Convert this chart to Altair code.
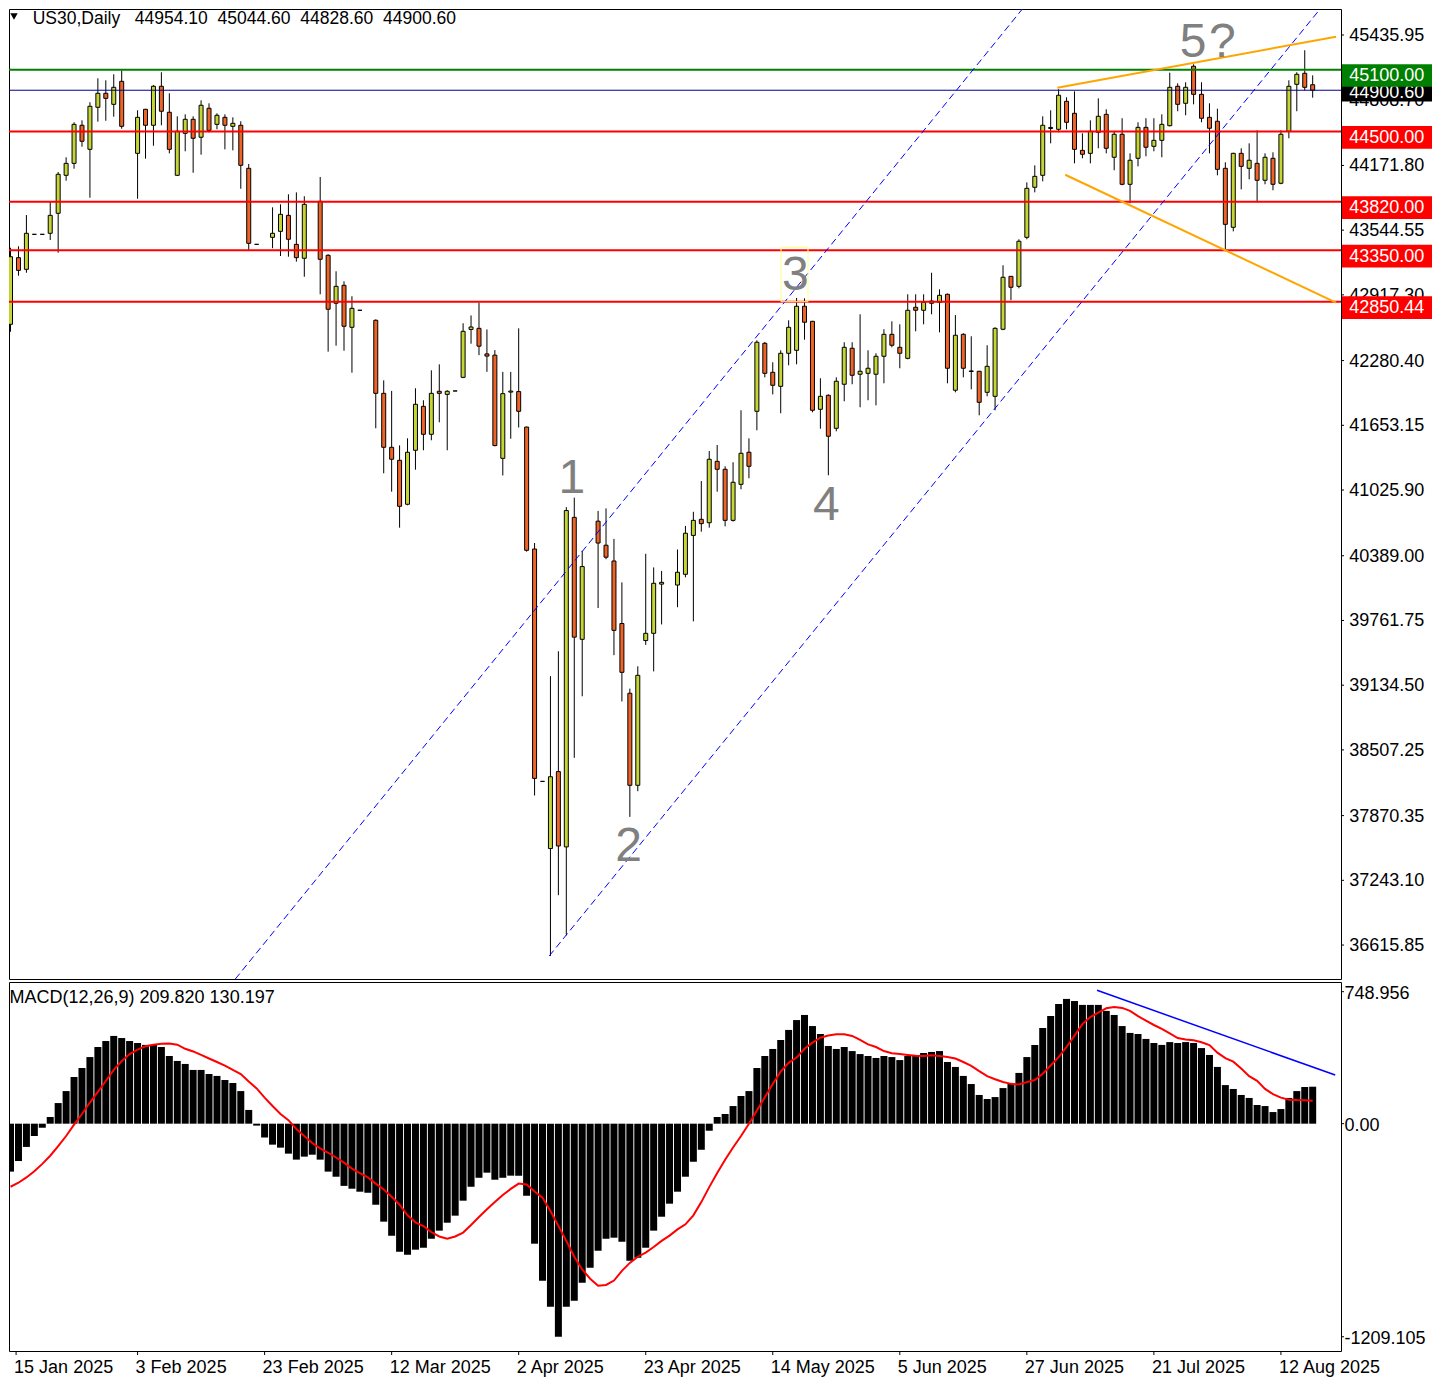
import altair as alt
import pandas as pd

# ---------------- data ----------------
bar_idx = [0,1,2,3,4,5,6,7,8,9,10,11,12,13,14,16,17,18,19,20,21,22,23,24,25,26,27,28,29,30,31,
           33,34,35,36,37,39,40,41,42,43,44,46,47,48,49,50,51,52,53,54,55,56,57,58,59,60,61,62,63,64,
           65,66,67,68,69,70,71,72,74,75,76,77,78,79,80,81,82,84,85,86,87,88,89,90,91,92,93,94,95,96,
           97,98,99,100,101,102,103,104,105,106,107,108,109,110,111,112,113,114,115,116,117,118,119,120,
           121,122,123,124,125,126,127,128,129,130,131,132,133,134,135,136,137,138,139,140,141,142,143,
           144,145,146,147,148,149,150,151,152,153,154,155,156,157,158,159,160,161,162,163,164]
opens = [42632,43278,43165,43504,43504,43514,43708,44076,44192,44561,44328,44735,44871,44764,44987,44289,44716,44561,44939,44687,44076,44483,44619,44445,44726,44570,44638,44551,44561,44144,43407,
         43475,43533,43688,43407,43272,43824,43301,42836,43010,42603,42768,42671,41963,41440,41314,40888,41411,41837,41566,41983,41953,41986,42118,42582,42593,42345,42333,41333,41975,41980,
         41636,40454,38202,37551,38297,37567,40761,39579,40724,40491,40338,39732,39056,38164,39567,39637,40114,40105,40209,40586,40742,40709,41304,41227,40732,41081,41392,41789,42448,42167,
         42031,42351,42380,42807,42661,41808,41944,41624,42051,42400,42148,42157,42148,42322,42535,42409,42302,42797,42768,42858,42845,42923,41993,42535,
         42180,42177,41973,41934,42584,43097,43000,43475,43960,44076,44530,44522,44793,44677,44318,44289,44493,44667,44251,44474,43989,44241,44541,
         44357,44415,44557,44939,44774,45133,44861,44638,44600,44144,43572,44289,44144,44192,44028,44241,43999,44503,44958,45065,44954.10]
highs = [43374,43388,43691,43504,43504,43817,44108,44251,44590,44609,44784,45016,44997,45055,45094,44706,44720,44951,45075,44871,44648,44667,44648,44803,44774,44677,44667,44638,44600,44186,43407,
         43766,43795,43892,43911,43873,44060,43311,43146,43049,42904,42768,42680,42089,41986,41459,41527,42012,41896,42186,42244,41993,41986,42642,42718,42842,42582,42382,42171,42171,42593,
         41640,40512,38202,39222,39463,40860,40952,40437,40823,40848,40552,40131,39101,39317,40408,40276,40242,40449,40678,40815,41113,41404,41462,41256,41295,41799,41527,42477,42461,42264,
         42380,42671,42887,42884,42665,42109,41953,42118,42458,42458,42729,42380,42351,42584,42661,42632,42923,42923,42923,43132,42971,42930,42722,42545,
         42516,42180,42429,42603,43204,43100,43456,44008,44173,44648,44706,44910,44832,44890,44483,44609,44822,44716,44503,44629,44289,44590,44629,
         44629,44667,45071,44968,44978,45152,44978,44774,44722,44202,44295,44338,44386,44512,44289,44299,44512,44997,45075,45288,45044.60]
lows = [42560,43103,43132,43504,43504,43449,43326,44024,44140,44353,43859,44596,44605,44644,44528,43849,44237,44363,44561,44289,44070,44309,44101,44276,44493,44522,44328,44318,43946,43349,43407,
        43369,43294,43287,43239,43093,42923,42367,42425,42376,42163,42768,41624,41188,41010,40661,40878,41223,41411,41508,41682,41411,41986,42110,42444,42333,42171,41449,41167,41523,41632,
        40429,38065,38202,36510,37099,36709,38430,39027,39882,40355,39425,38977,37858,38107,39525,39268,39723,39890,40180,39753,40622,40661,41010,40674,40720,41033,41140,41605,42118,41953,
        41770,42235,42244,42483,41779,41620,41169,41595,41886,42051,41828,41896,41847,42060,42409,42206,42293,42564,42632,42729,42554,42060,41973,42118,
        42002,41750,41934,41799,42575,42865,42981,43456,43911,44018,44386,44493,44522,44192,44241,44192,44338,44289,44125,43980,43805,44163,44260,
        44309,44251,44550,44697,44658,44764,44590,44289,44076,43359,43533,43940,44037,43815,43989,43931,43990,44435,44697,44900,44828.60]
closes = [43287,43155,43514,43504,43504,43688,44086,44192,44570,44406,44745,44871,44822,44929,44551,44638,44561,44939,44697,44328,44503,44619,44435,44755,44512,44658,44561,44580,44173,43417,43407,
          43514,43698,43456,43278,43795,43262,42778,43000,42613,42787,42768,41963,41440,41324,40868,41392,41857,41566,41963,41963,41983,41986,42564,42606,42420,42324,41457,41960,41985,41789,
          40442,38231,38202,38247,37576,40827,39600,40284,40512,40375,39666,39259,38164,39230,39637,40122,40131,40229,40607,40732,40700,41324,41227,40732,41101,41382,41256,42458,42157,42041,
          42351,42603,42807,42652,41799,41934,41547,42080,42409,42138,42177,42206,42322,42535,42429,42351,42768,42768,42845,42836,42913,42206,42526,42206,
          42175,41876,42225,42593,43088,42991,43437,43950,44066,44561,44540,44852,44590,44328,44280,44503,44648,44338,44474,43989,44222,44541,44348,
          44415,44570,44929,44764,44929,44861,44629,44532,44134,43601,44289,44163,44222,44028,44251,43989,44474,44939,45055,44929,44900.60]

macd_hist = [-272,-212,-132,-70,-23,38,117,185,265,316,
             378,435,469,498,486,469,458,447,447,435,
             384,356,339,305,305,282,271,248,231,185,
             78,-11,-79,-119,-136,-170,-204,-187,-176,-204,
             -272,-301,-353,-369,-386,-392,-460,-556,-636,-727,
             -744,-715,-704,-653,-607,-562,-522,-437,-358,-307,
             -278,-318,-307,-295,-295,-409,-681,-891,-1039,-1209.105,
             -1039,-1005,-903,-817,-721,-653,-647,-670,-778,-761,
             -704,-607,-528,-454,-386,-301,-216,-148,-40,38,
             55,100,157,185,316,384,424,475,532,588,
             617,554,509,441,424,435,412,395,384,373,
             384,378,361,384,384,401,407,412,350,322,
             271,225,163,140,151,202,225,288,378,447,
             543,611,679,708,696,674,674,674,640,617,
             554,515,509,481,458,447,463,458,463,458,
             429,390,322,219,197,163,146,106,100,66,
             83,146,185,208,209.820]
macd_signal = [-358,-335,-305,-270,-228,-182,-128,-70,-5,55,
               120,180,242,305,355,395,420,439,448,454,
               455,448,425,410,390,370,350,330,305,282,
               240,200,148,100,55,20,-30,-70,-110,-140,
               -165,-192,-221,-255,-280,-305,-340,-373,-415,-460,
               -520,-560,-581,-615,-640,-653,-640,-618,-575,-530,
               -486,-445,-405,-370,-340,-345,-385,-420,-495,-580,
               -665,-755,-827,-880,-920,-915,-890,-835,-790,-755,
               -732,-700,-665,-635,-600,-571,-520,-445,-360,-280,
               -205,-135,-70,0,75,150,225,295,345,375,
               425,460,488,500,507,507,498,475,450,435,
               412,400,395,390,386,384,388,384,378,370,
               350,328,298,270,252,237,226,222,236,248,
               283,330,378,435,500,565,605,630,655,662,
               657,640,610,585,560,538,512,486,478,473,
               462,446,403,372,352,313,270,243,197,168,
               148,136,134,133,130.197]

date_bars = [0.7, 16, 32, 48, 64, 80, 96, 112, 128, 144, 160]
date_labels = ["15 Jan 2025", "3 Feb 2025", "23 Feb 2025", "12 Mar 2025", "2 Apr 2025",
               "23 Apr 2025", "14 May 2025", "5 Jun 2025", "27 Jun 2025", "21 Jul 2025", "12 Aug 2025"]

price_ticks = [45435.95, 44808.70, 44171.80, 43544.55, 42917.30, 42280.40, 41653.15, 41025.90,
               40389.00, 39761.75, 39134.50, 38507.25, 37870.35, 37243.10, 36615.85]
macd_ticks = [748.956, 0.0, -1209.105]
macd_tick_labels = ["748.956", "0.00", "-1209.105"]

level_prices = [45100.00, 44900.60, 44500.00, 43820.00, 43350.00, 42850.44]
level_labels = ["45100.00", "44900.60", "44500.00", "43820.00", "43350.00", "42850.44"]
level_line_colors = ["#008000", "#00008B", "#FF0000", "#FF0000", "#FF0000", "#FF0000"]
level_box_colors = ["#008000", "#000000", "#FF0000", "#FF0000", "#FF0000", "#FF0000"]
level_widths = [2, 1, 2, 2, 2, 2]

channel_x1 = [28.375, 67.91]
channel_p1 = [36286.7, 36510.0]
channel_x2 = [127.5, 165.0]
channel_p2 = [45688.0, 45688.0]

orange_x1 = [131.9, 132.9]
orange_p1 = [44925.0, 44081.6]
orange_x2 = [167.0, 167.0]
orange_p2 = [45419.0, 42843.0]

wave_text = ["1", "2", "3", "4", "5", "?"]
wave_bar = [70.75, 77.9, 98.9, 102.8, 149.0, 152.7]
wave_price = [41133, 37567, 43100, 40871, 45361, 45361]

box3_x = [97.1, 100.5]
box3_p = [43381, 42851]

macd_trend_x = [136.9, 166.9]
macd_trend_v = [757.0, 276.0]

header_main = "US30,Daily\u00a0\u00a0 44954.10\u00a0 45044.60\u00a0 44828.60\u00a0 44900.60"
header_macd = "MACD(12,26,9) 209.820 130.197"

# ---------------- layout constants ----------------
FONT = "Liberation Sans"
BULL = "#C5D536"
BEAR = "#EF6326"
W = 1332
H1 = 970
H2 = 369
X_DOM = [0.5, 167.0]
Y1_DOM = [36286.7, 45688.0]
Y2_DOM = [-1290.0, 804.0]
PPX = (Y1_DOM[1] - Y1_DOM[0]) / H1  # price per pixel

xsc = alt.Scale(domain=X_DOM, nice=False, zero=False)
y1sc = alt.Scale(domain=Y1_DOM, nice=False, zero=False)
y2sc = alt.Scale(domain=Y2_DOM, nice=False, zero=False)


def X(f):
    return alt.X(f, scale=xsc, axis=None)


def Y(f):
    return alt.Y(f, scale=y1sc, axis=None)


def Y2(f):
    return alt.Y(f, scale=y2sc, axis=None)


candles = pd.DataFrame({"i": bar_idx, "o": opens, "h": highs, "l": lows, "c": closes})

wick = alt.Chart(candles).mark_rule(color="black", strokeWidth=1, xOffset=0.5, clip=True).encode(
    x=X("i:Q"), y=Y("l:Q"), y2="h:Q")

body = alt.Chart(candles).mark_bar(size=4, stroke="black", strokeWidth=1, xOffset=0.5,
                                   clip=True).encode(
    x=X("i:Q"), y=Y("o:Q"), y2="c:Q",
    fill=alt.condition("datum.c >= datum.o", alt.value(BULL), alt.value(BEAR)))

# right price scale (ticks + labels)
ptick_df = pd.DataFrame({"p": price_ticks, "t": [f"{v:.2f}" for v in price_ticks]})
ptick_marks = alt.Chart(ptick_df).mark_rule(color="black", strokeWidth=1).encode(
    x=alt.value(W), x2=alt.value(W + 3), y=Y("p:Q"))
ptick_text = alt.Chart(ptick_df).mark_text(font=FONT, fontSize=18, color="black", align="left",
                                           baseline="middle", dy=1).encode(
    x=alt.value(W + 8.3), y=Y("p:Q"), text="t:N")

levels = pd.DataFrame({"p": level_prices, "col": level_line_colors, "w": level_widths,
                       "box": level_box_colors, "t": level_labels})
hlines = alt.Chart(levels).mark_rule(clip=True).encode(
    y=Y("p:Q"), color=alt.Color("col:N", scale=None),
    strokeWidth=alt.StrokeWidth("w:Q", scale=None))

chan_df = pd.DataFrame({"i": channel_x1, "p": channel_p1, "i2": channel_x2, "p2": channel_p2})
channel = alt.Chart(chan_df).mark_rule(color="#0000FF", strokeWidth=1, strokeDash=[7, 4],
                                       clip=True).encode(
    x=X("i:Q"), y=Y("p:Q"), x2="i2:Q", y2="p2:Q")

or_df = pd.DataFrame({"i": orange_x1, "p": orange_p1, "i2": orange_x2, "p2": orange_p2})
orange = alt.Chart(or_df).mark_rule(color="#FFA500", strokeWidth=2, clip=True).encode(
    x=X("i:Q"), y=Y("p:Q"), x2="i2:Q", y2="p2:Q")

box3_df = pd.DataFrame({"i": [box3_x[0]], "i2": [box3_x[1]], "p": [box3_p[0]], "p2": [box3_p[1]]})
box3 = alt.Chart(box3_df).mark_rect(fillOpacity=0, stroke="#FFFF80", strokeWidth=1).encode(
    x=X("i:Q"), x2="i2:Q", y=Y("p:Q"), y2="p2:Q")

wave_df = pd.DataFrame({"i": wave_bar, "p": wave_price, "t": wave_text})
waves = alt.Chart(wave_df).mark_text(font=FONT, fontSize=48, color="#808080", align="center",
                                     baseline="middle").encode(
    x=X("i:Q"), y=Y("p:Q"), text="t:N")

# price tag boxes on the right scale
bid = levels[levels["t"] == "44900.60"].copy()
bid["top"] = bid["p"] + 6.3 * PPX
bid["bot"] = bid["p"] - 11.2 * PPX
others = levels[levels["t"] != "44900.60"].copy()
others["top"] = others["p"] + 5.5 * PPX
others["bot"] = others["p"] - 17.2 * PPX

bid_box = alt.Chart(bid).mark_rect(color="black").encode(
    x=alt.value(W + 1), x2=alt.value(W + 91), y=Y("top:Q"), y2="bot:Q")
bid_txt = alt.Chart(bid).mark_text(font=FONT, fontSize=18, color="white", align="left",
                                   baseline="middle", dy=3).encode(
    x=alt.value(W + 8.3), y=Y("p:Q"), text="t:N")
lvl_box = alt.Chart(others).mark_rect().encode(
    x=alt.value(W + 1), x2=alt.value(W + 91), y=Y("top:Q"), y2="bot:Q",
    color=alt.Color("box:N", scale=None))
lvl_txt = alt.Chart(others).mark_text(font=FONT, fontSize=18, color="white", align="left",
                                      baseline="middle", dy=6.5).encode(
    x=alt.value(W + 8.3), y=Y("p:Q"), text="t:N")

head = alt.Chart(pd.DataFrame({"t": [header_main]})).mark_text(
    font=FONT, fontSize=17.5, color="black", align="left", baseline="middle").encode(
    x=alt.value(23.7), y=alt.value(10), text="t:N")
tri = alt.Chart(pd.DataFrame({"t": [0]})).mark_point(
    shape="triangle-down", filled=True, color="black", size=55, opacity=1).encode(
    x=alt.value(5), y=alt.value(7.5))

main = alt.layer(wick, body, ptick_marks, ptick_text, hlines, channel, orange, box3, waves,
                 bid_box, bid_txt, lvl_box, lvl_txt, head, tri).properties(width=W, height=H1)

# ---------------- MACD panel ----------------
macd_df = pd.DataFrame({"i": list(range(len(macd_hist))), "m": macd_hist, "s": macd_signal})

hist = alt.Chart(macd_df).mark_bar(size=7, color="black", xOffset=0.5, clip=True).encode(
    x=X("i:Q"), y=alt.Y("m:Q", scale=y2sc, axis=None, stack=None))
signal = alt.Chart(macd_df).mark_line(color="#FF0000", strokeWidth=2, xOffset=0.5,
                                      clip=True).encode(
    x=X("i:Q"), y=Y2("s:Q"))
trend_df = pd.DataFrame({"i": [macd_trend_x[0]], "i2": [macd_trend_x[1]],
                         "v": [macd_trend_v[0]], "v2": [macd_trend_v[1]]})
trend = alt.Chart(trend_df).mark_rule(color="#0000FF", strokeWidth=1.5, clip=True).encode(
    x=X("i:Q"), x2="i2:Q", y=Y2("v:Q"), y2="v2:Q")
head2 = alt.Chart(pd.DataFrame({"t": [header_macd]})).mark_text(
    font=FONT, fontSize=18, color="black", align="left", baseline="middle").encode(
    x=alt.value(0.5), y=alt.value(16), text="t:N")

mtick_df = pd.DataFrame({"v": macd_ticks, "t": macd_tick_labels})
mtick_marks = alt.Chart(mtick_df).mark_rule(color="black", strokeWidth=1).encode(
    x=alt.value(W), x2=alt.value(W + 3), y=Y2("v:Q"))
mtick_text = alt.Chart(mtick_df).mark_text(font=FONT, fontSize=18, color="black", align="left",
                                           baseline="middle", dy=2.5).encode(
    x=alt.value(W + 3.5), y=Y2("v:Q"), text="t:N")

date_df = pd.DataFrame({"i": date_bars, "t": date_labels})
date_ticks = alt.Chart(date_df).mark_rule(color="black", strokeWidth=1, xOffset=0.5).encode(
    x=X("i:Q"), y=alt.value(H2), y2=alt.value(H2 + 4))
date_text = alt.Chart(date_df).mark_text(font=FONT, fontSize=18, color="black", align="left",
                                         baseline="top", dx=-1.5).encode(
    x=X("i:Q"), y=alt.value(H2 + 8), text="t:N")

macd = alt.layer(hist, signal, trend, head2, mtick_marks, mtick_text, date_ticks,
                 date_text).properties(width=W, height=H2)

chart = alt.vconcat(main, macd, spacing=3, bounds="flush").properties(
    padding=0, background="white").configure_view(stroke="black", strokeWidth=1)

chart.save("out.html", embed_options={"renderer": "svg", "actions": False})
